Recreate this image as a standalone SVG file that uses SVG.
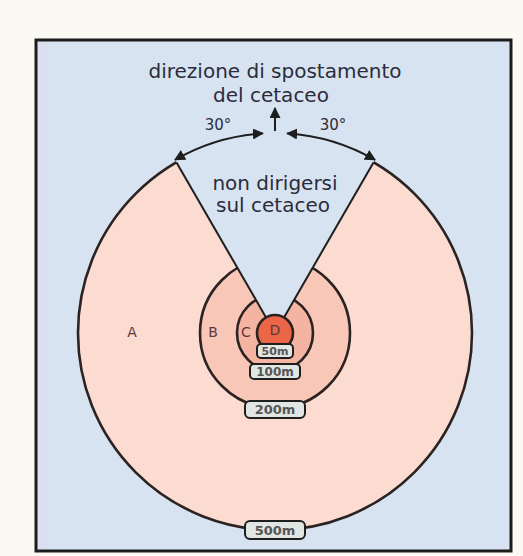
<svg xmlns="http://www.w3.org/2000/svg" width="523" height="556" viewBox="0 0 523 556">
<defs>
<style>
.t{font-family:"DejaVu Sans","Liberation Sans",sans-serif;fill:#2c2c3c}
.z{font-family:"DejaVu Sans","Liberation Sans",sans-serif;fill:#5a3840;font-size:14px}
.ring{stroke:#2b2222;stroke-width:2.6}
.dim{fill:none;stroke:#1e1e1e;stroke-width:2}
.lb rect{fill:#e2e6e2;stroke:#1e1e1e;stroke-width:2}
.lb text{font-family:"DejaVu Sans","Liberation Sans",sans-serif;font-weight:bold;fill:#555;text-anchor:middle}
</style>
<marker id="ah" viewBox="0 0 10 10" refX="9" refY="5" markerWidth="5.5" markerHeight="5.5" orient="auto-start-reverse" markerUnits="strokeWidth">
<path d="M0,0 L10,5 L0,10 z" fill="#1e1e1e"/>
</marker>
</defs>
<rect x="0" y="0" width="523" height="556" fill="#fafaf2"/>
<g id="frame">
<rect x="36" y="40" width="475" height="511" fill="#d7e3f0" stroke="#1c1c1c" stroke-width="3"/>
<rect x="38" y="42" width="12" height="507" fill="#dcdcf2" opacity="0.6"/>
</g>
<g id="zones">
<circle id="zoneA" class="ring" cx="275" cy="333" r="197" fill="#fcdcd0"/>
<circle id="zoneB" class="ring" cx="275" cy="333" r="75" fill="#f9c7b8"/>
<circle id="zoneC" class="ring" cx="275" cy="333" r="38" fill="#f5b3a2"/>
<polygon id="wedge" points="275,333 145,107.8 405,107.8" fill="#d7e3f0"/>
<circle id="zoneD" class="ring" cx="275" cy="333" r="18" fill="#ea6646"/>
</g>
<g id="connectors">
<line class="dim" x1="266" y1="317.4" x2="176.5" y2="162.4" stroke-width="2.6"/>
<line class="dim" x1="284" y1="317.4" x2="373.5" y2="162.4" stroke-width="2.6"/>
<path class="dim" d="M175,159.8 A200,200 0 0 1 262.8,133.4" marker-start="url(#ah)" marker-end="url(#ah)"/>
<path class="dim" d="M287.2,133.4 A200,200 0 0 1 375,159.8" marker-start="url(#ah)" marker-end="url(#ah)"/>
<line class="dim" x1="275" y1="131" x2="275" y2="108" marker-end="url(#ah)"/>
</g>
<g id="titles">
<text class="t" x="275" y="78" font-size="20" text-anchor="middle">direzione di spostamento</text>
<text class="t" x="271" y="102" font-size="20" text-anchor="middle">del cetaceo</text>
<text class="t" x="218" y="130" font-size="15" text-anchor="middle">30°</text>
<text class="t" x="333" y="130" font-size="15" text-anchor="middle">30°</text>
<text class="t" x="275" y="190" font-size="20" text-anchor="middle">non dirigersi</text>
<text class="t" x="273" y="212" font-size="20" text-anchor="middle">sul cetaceo</text>
</g>
<g id="zone-labels">
<text class="z" x="132" y="337" text-anchor="middle">A</text>
<text class="z" x="213" y="337" text-anchor="middle">B</text>
<text class="z" x="246" y="337" text-anchor="middle">C</text>
<text class="z" x="275" y="335" text-anchor="middle">D</text>
</g>
<g id="label-50" class="lb"><rect x="257" y="344" width="36" height="14" rx="4"/><text x="275" y="355" font-size="11">50m</text></g>
<g id="label-100" class="lb"><rect x="250" y="364" width="50" height="15" rx="4"/><text x="275" y="376" font-size="12">100m</text></g>
<g id="label-200" class="lb"><rect x="245" y="401" width="60" height="17" rx="5"/><text x="275" y="414" font-size="13">200m</text></g>
<g id="label-500" class="lb"><rect x="245" y="521" width="60" height="18" rx="5"/><text x="275" y="535" font-size="13">500m</text></g>
</svg>
